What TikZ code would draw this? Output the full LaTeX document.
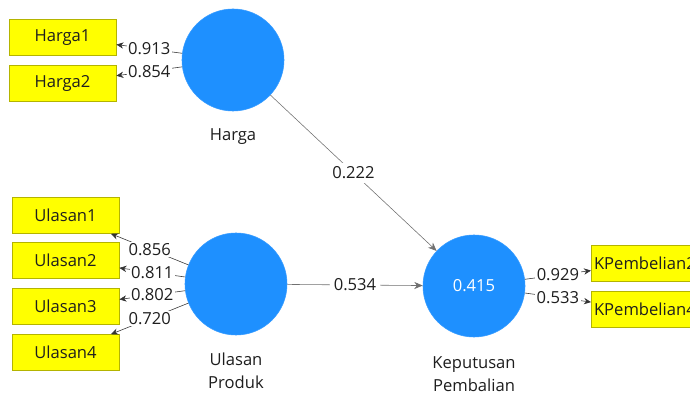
\documentclass[tikz,border=0pt]{standalone}
\usepackage{fontspec}
\setmainfont{Open Sans}
\usetikzlibrary{positioning,arrows.meta}
\definecolor{lvblue}{HTML}{1E90FF}
\definecolor{mvyellow}{HTML}{FFFF00}
\definecolor{mvedge}{HTML}{B4B400}
\definecolor{pathgray}{HTML}{707070}
\definecolor{txt}{HTML}{1E1E1E}
\def\latentnode{\node[latent]}
\def\itemnode{\node[indicator]}

\begin{document}
\begin{tikzpicture}[x=0.025cm,y=-0.025cm,
  font=\fontsize{11.8}{16.5}\selectfont,text=txt,
  latent/.style={circle,fill=lvblue,draw=lvblue!90,minimum size=2.55cm,inner sep=0pt,text=white},
  indicator/.style={rectangle,fill=mvyellow,draw=mvedge,minimum width=2.68cm,minimum height=0.9cm,inner sep=0pt},
  loading/.style={draw=black!80,-{Stealth[length=5pt,width=4.5pt]}},
  path/.style={draw=pathgray,-{Stealth[length=6pt,width=5pt]}},
  coef/.style={fill=white,inner sep=1pt,text=txt},
  caption/.style={align=center}]
\clip (0,0) rectangle (690,398);
\fill[white] (0,0) rectangle (690,398);
% latent variables
\latentnode (harga) at (233,60) {};
\latentnode (ulasan) at (236,284) {};
\latentnode (kp) at (474,286) {0.415};
\node[caption,below=0.32cm of harga] (hargaL) {Harga};
\node[caption,below=0.32cm of ulasan] (ulasanL) {Ulasan\\Produk};
\node[caption,below=0.35cm of kp] (kpL) {Keputusan\\Pembalian};
% indicators
\itemnode (h1) at (62.5,37.5) {Harga1};
\itemnode (h2) at (62.5,83) {Harga2};
\itemnode (u1) at (65.5,215.5) {Ulasan1};
\itemnode (u2) at (65.5,260.5) {Ulasan2};
\itemnode (u3) at (65.5,306.5) {Ulasan3};
\itemnode (u4) at (65.5,352.5) {Ulasan4};
\itemnode[anchor=west] (k2) at (591,263.5) {KPembelian2};
\itemnode[anchor=west] (k4) at (591,309.5) {KPembelian4};
% outer loadings
\draw[loading] (harga) -- node[coef] {0.913} (h1);
\draw[loading] (harga) -- node[coef] {0.854} (h2);
\draw[loading] (ulasan) -- node[coef] {0.856} (u1);
\draw[loading] (ulasan) -- node[coef] {0.811} (u2);
\draw[loading] (ulasan) -- node[coef] {0.802} (u3);
\draw[loading] (ulasan) -- node[coef] {0.720} (u4);
\draw[loading] (kp) -- node[coef] {0.929} (k2);
\draw[loading] (kp) -- node[coef] {0.533} (k4);
% inner model
\draw[path] (harga) -- node[coef,inner sep=3pt] {0.222} (kp);
\draw[path] (ulasan) -- node[coef,inner sep=3pt] {0.534} (kp);
\end{tikzpicture}
\end{document}
